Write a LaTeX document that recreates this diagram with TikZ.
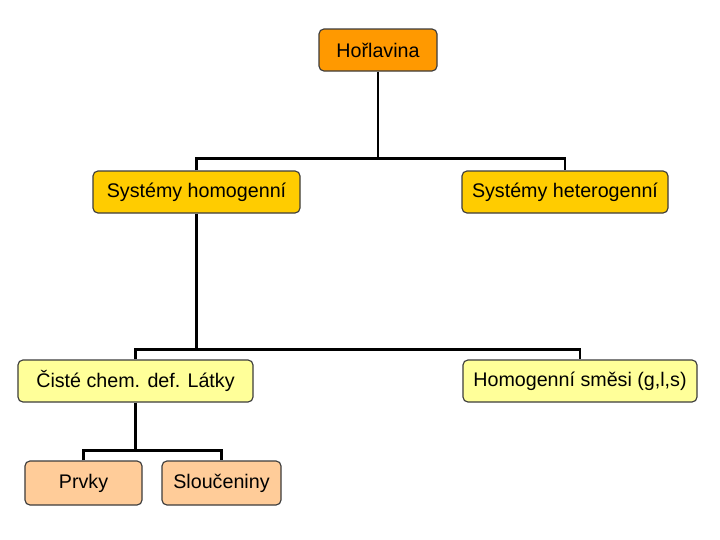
\documentclass[tikz,border=0pt]{standalone}
\usepackage{fontspec}
\setmainfont{Liberation Sans}
\definecolor{boxline}{RGB}{60,60,60}
\definecolor{topfill}{RGB}{255,153,0}
\definecolor{midfill}{RGB}{255,204,0}
\definecolor{lowfill}{RGB}{255,255,153}
\definecolor{leaffill}{RGB}{255,204,153}

\begin{document}
\begin{tikzpicture}[
  font=\fontsize{14}{16}\selectfont,
  box/.style={draw=boxline,line width=0.8pt,rounded corners=3.5pt,
              align=center,inner sep=2pt,minimum height=10.5mm},
  link/.style={line width=2.1pt,black}
]
\useasboundingbox[fill=white] (0,0) rectangle (18,-13.5);
\node[box,fill=topfill,minimum width=29.5mm] (hor) at (9.45,-1.25) {Hořlavina};
\node[box,fill=midfill,minimum width=51.75mm] (shom) at (4.9125,-4.8) {Systémy homogenní};
\node[box,fill=midfill,minimum width=51.5mm] (shet) at (14.125,-4.8) {Systémy heterogenní};
\node[box,fill=lowfill,minimum width=58.75mm] (cist) at (3.3875,-9.525) {Čisté chem. def. Látky};
\node[box,fill=lowfill,minimum width=58.5mm] (smesi) at (14.5,-9.525) {Homogenní směsi (g,l,s)};
\node[box,fill=leaffill,minimum width=29.25mm,minimum height=11mm] (prvky) at (2.0875,-12.075) {Prvky};
\node[box,fill=leaffill,minimum width=29.75mm,minimum height=11mm] (slouc) at (5.5375,-12.075) {Sloučeniny};
% tree connectors
\draw[link] (hor.south) -- +(0,-2.175) coordinate (j1);
\draw[link] (shom.north) |- (j1) -| (shet.north);
\draw[link] (shom.south) -- +(0,-3.4) coordinate (j2);
\draw[link] (cist.north) |- (j2) -| (smesi.north);
\draw[link] (cist.south) -- +(0,-1.2) coordinate (j3);
\draw[link] (prvky.north) |- (j3) -| (slouc.north);
\end{tikzpicture}
\end{document}
